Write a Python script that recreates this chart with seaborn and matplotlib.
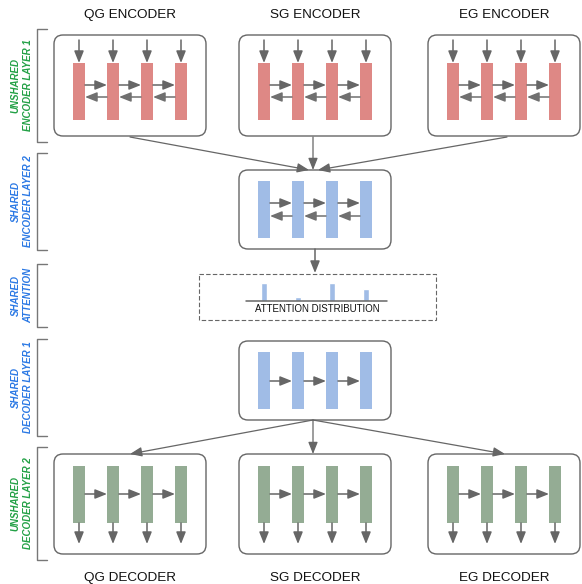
import matplotlib
matplotlib.use("Agg")
import matplotlib.pyplot as plt
from matplotlib.patches import FancyBboxPatch, Rectangle
import pandas as pd
import seaborn as sns

# data
encoders = ["QG ENCODER", "SG ENCODER", "EG ENCODER"]
decoders = ["QG DECODER", "SG DECODER", "EG DECODER"]
layer_labels = ["UNSHARED\nENCODER LAYER 1", "SHARED\nENCODER LAYER 2", "SHARED\nATTENTION",
                "SHARED\nDECODER LAYER 1", "UNSHARED\nDECODER LAYER 2"]
layer_shared = [False, True, True, True, False]
att_steps = ["t1", "t2", "t3", "t4"]
att_weights = [0.9, 0.2, 0.9, 0.6]

RED = "#de8885"
BLUE = "#a0bce6"
GREEN = "#94ac94"
GRAY = "#666666"
LGREEN = "#22a045"
LBLUE = "#2a78e4"

sns.set_style("white")
plt.rcParams["font.family"] = ["Liberation Sans", "DejaVu Sans"]

fig = plt.figure(figsize=(5.82, 5.84), dpi=100)
ax = fig.add_axes([0, 0, 1, 1])
ax.set_xlim(0, 582)
ax.set_ylim(584, 0)
ax.axis("off")

col_centers = [130, 315, 504]
box_w = 152
bar_w, bar_gap = 12, 34
HEAD = "-|>,head_length=0.55,head_width=0.22"


def arrow(x0, y0, x1, y1, lw=1.1, color=GRAY):
    ax.annotate("", xy=(x1, y1), xytext=(x0, y0),
                arrowprops=dict(arrowstyle=HEAD, color=color, lw=lw,
                                mutation_scale=13, shrinkA=0, shrinkB=0))


def box(cx, y0, y1, w=box_w):
    ax.add_patch(FancyBboxPatch((cx - w / 2, y0), w, y1 - y0,
                                boxstyle="round,pad=0,rounding_size=9",
                                fc="white", ec=GRAY, lw=1.0, zorder=1))


def cells(cx, y0, y1, color, right_y=None, left_y=None):
    lefts = [cx - 57 + i * bar_gap for i in range(4)]
    for xl in lefts:
        ax.add_patch(Rectangle((xl, y0), bar_w, y1 - y0, fc=color, ec="none", zorder=2))
    for i in range(3):
        a, b = lefts[i] + bar_w, lefts[i + 1]
        if right_y is not None:
            arrow(a, right_y, b, right_y)
        if left_y is not None:
            arrow(b, left_y, a, left_y, color="#707070")
    return [xl + bar_w / 2 for xl in lefts]


# unshared encoders
for name, cx in zip(encoders, col_centers):
    ax.text(cx, 15, name, ha="center", va="center", fontsize=9.7, color="#111111")
    box(cx, 35, 136)
    centers = cells(cx, 63, 120, RED, right_y=85, left_y=97)
    for c in centers:
        arrow(c, 40, c, 63)

# converge into shared encoder
arrow(130, 137, 309, 170, lw=0.9)
arrow(313, 137, 313, 170, lw=0.9)
arrow(507, 137, 318, 170, lw=0.9)

box(315, 170, 249)
cells(315, 181, 238, BLUE, right_y=203, left_y=216)
arrow(315, 249, 315, 273)

# attention
ax.add_patch(Rectangle((199, 274), 237, 46, fc="none", ec=GRAY, lw=0.8,
                       ls=(0, (4, 2)), zorder=1))
ax.text(317, 309.5, "ATTENTION DISTRIBUTION", ha="center", va="center",
        fontsize=7, color="#111111")
iax = fig.add_axes([246 / 582, (584 - 301) / 584, 141 / 582, 18 / 584])
att = pd.DataFrame({"step": att_steps, "weight": att_weights})
sns.barplot(data=att, x="step", y="weight", color=BLUE, width=0.18,
            saturation=1, ax=iax)
iax.set_xlim(-0.53, 3.62)
iax.set_ylim(0, max(att_weights))
iax.axis("off")
iax.axhline(0, color=GRAY, lw=1.1, clip_on=False)

# shared decoder
box(315, 341, 420)
cells(315, 352, 409, BLUE, right_y=381)

# diverge into unshared decoders
arrow(313, 420, 130, 454, lw=0.9)
arrow(313, 420, 313, 454, lw=0.9)
arrow(313, 420, 505, 454, lw=0.9)

for name, cx in zip(decoders, col_centers):
    box(cx, 454, 554)
    centers = cells(cx, 466, 523, GREEN, right_y=494)
    for c in centers:
        arrow(c, 523, c, 544)
    ax.text(cx, 578, name, ha="center", va="center", fontsize=9.7, color="#111111")

# layer brackets and labels
brackets = [(29, 142), (153, 250), (264, 327), (339, 436), (447, 560)]
for (y0, y1), label, shared in zip(brackets, layer_labels, layer_shared):
    ax.plot([47, 37, 37, 47], [y0, y0, y1, y1], color="#777777", lw=1.0)
    ax.text(22, (y0 + y1) / 2, label, rotation=90, ha="center", va="center",
            fontsize=7, fontweight="bold", fontstyle="italic", linespacing=1.3,
            color=LBLUE if shared else LGREEN)

fig.savefig("out.png", dpi=100)
